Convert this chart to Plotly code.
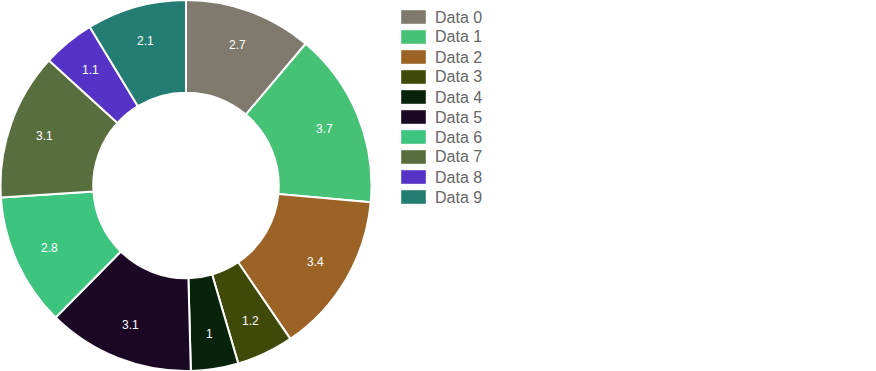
import math
import plotly.graph_objects as go

labels = ["Data 0", "Data 1", "Data 2", "Data 3", "Data 4", "Data 5", "Data 6", "Data 7", "Data 8", "Data 9"]
values = [2.7, 3.7, 3.4, 1.2, 1, 3.1, 2.8, 3.1, 1.1, 2.1]
colors = ["#7f7a6d", "#45c275", "#9c6326", "#404a08", "#07230b", "#1b0824", "#3dc47e", "#586e3f", "#5433c6", "#237d72"]

W, H = 876, 371
pie_dom_x = [0, 372 / W]

fig = go.Figure(go.Pie(
    labels=labels, values=values, sort=False, direction="clockwise", rotation=0,
    hole=0.5, textinfo="none", showlegend=False,
    marker=dict(colors=colors, line=dict(color="white", width=2)),
    domain=dict(x=pie_dom_x, y=[0, 1]),
))

# value labels placed at ~81% of outer radius, angle derived from data
total = sum(values)
cx, cy = (pie_dom_x[0] + pie_dom_x[1]) / 2, 0.5
r_px = 150
cum = 0.0
annotations = []
for v in values:
    a = 2 * math.pi * (cum + v / 2) / total
    cum += v
    annotations.append(dict(
        x=cx + r_px * math.sin(a) / W, y=cy + r_px * math.cos(a) / H,
        xref="paper", yref="paper", xanchor="center", yanchor="middle",
        text=f"{v:g}", showarrow=False,
        font=dict(family="Liberation Sans, Arial", size=12, color="white"),
    ))

# custom legend (wide swatches)
shapes = []
for i, (lab, col) in enumerate(zip(labels, colors)):
    yc = 17 + 20 * i
    shapes.append(dict(type="rect", xref="paper", yref="paper",
                       x0=401 / W, x1=426 / W, y0=1 - (yc - 7) / H, y1=1 - (yc + 7) / H,
                       fillcolor=col, line=dict(color="rgba(255,255,255,0.4)", width=1)))
    annotations.append(dict(x=433 / W, y=1 - yc / H, xref="paper", yref="paper",
                            xanchor="left", yanchor="middle", text=lab, showarrow=False,
                            font=dict(family="Liberation Sans, Arial", size=16, color="#666666")))

fig.update_layout(
    width=W, height=H, margin=dict(l=0, r=0, t=0, b=0),
    paper_bgcolor="white", plot_bgcolor="white",
    annotations=annotations, shapes=shapes, showlegend=False,
)
fig.write_html("out.html", config={"displayModeBar": False},
               post_script="document.body.style.margin='0';")
